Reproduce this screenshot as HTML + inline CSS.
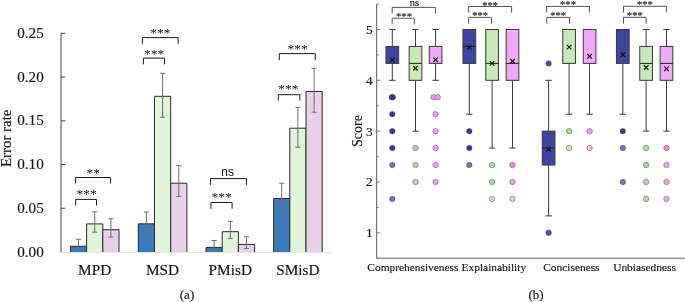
<!DOCTYPE html>
<html><head><meta charset="utf-8"><style>
html,body{margin:0;padding:0;background:#fff;}
body{width:685px;height:302px;overflow:hidden;}
svg{display:block;will-change:transform;color:#111;}
text{font-family:"Liberation Serif", serif;}
.t{stroke:#111;stroke-width:0.15px;}
</style></head><body>
<svg width="685" height="302" viewBox="0 0 685 302">
<rect x="70.40" y="246.30" width="16.2" height="5.70" fill="#3c7bb9"/>
<path d="M70.40 252V246.30H86.60V252" stroke="#2a2a2a" stroke-width="1" fill="none"/>
<rect x="86.60" y="223.90" width="16.2" height="28.10" fill="#e1f3db"/>
<path d="M86.60 252V223.90H102.80V252" stroke="#2a2a2a" stroke-width="1" fill="none"/>
<rect x="102.80" y="229.70" width="16.2" height="22.30" fill="#e7d1e7"/>
<path d="M102.80 252V229.70H119.00V252" stroke="#2a2a2a" stroke-width="1" fill="none"/>
<rect x="138.30" y="223.80" width="16.2" height="28.20" fill="#3c7bb9"/>
<path d="M138.30 252V223.80H154.50V252" stroke="#2a2a2a" stroke-width="1" fill="none"/>
<rect x="154.50" y="96.30" width="16.2" height="155.70" fill="#e1f3db"/>
<path d="M154.50 252V96.30H170.70V252" stroke="#2a2a2a" stroke-width="1" fill="none"/>
<rect x="170.70" y="183.20" width="16.2" height="68.80" fill="#e7d1e7"/>
<path d="M170.70 252V183.20H186.90V252" stroke="#2a2a2a" stroke-width="1" fill="none"/>
<rect x="206.00" y="247.40" width="16.2" height="4.60" fill="#3c7bb9"/>
<path d="M206.00 252V247.40H222.20V252" stroke="#2a2a2a" stroke-width="1" fill="none"/>
<rect x="222.20" y="231.70" width="16.2" height="20.30" fill="#e1f3db"/>
<path d="M222.20 252V231.70H238.40V252" stroke="#2a2a2a" stroke-width="1" fill="none"/>
<rect x="238.40" y="244.40" width="16.2" height="7.60" fill="#e7d1e7"/>
<path d="M238.40 252V244.40H254.60V252" stroke="#2a2a2a" stroke-width="1" fill="none"/>
<rect x="273.60" y="198.50" width="16.2" height="53.50" fill="#3c7bb9"/>
<path d="M273.60 252V198.50H289.80V252" stroke="#2a2a2a" stroke-width="1" fill="none"/>
<rect x="289.80" y="128.20" width="16.2" height="123.80" fill="#e1f3db"/>
<path d="M289.80 252V128.20H306.00V252" stroke="#2a2a2a" stroke-width="1" fill="none"/>
<rect x="306.00" y="91.50" width="16.2" height="160.50" fill="#e7d1e7"/>
<path d="M306.00 252V91.50H322.20V252" stroke="#2a2a2a" stroke-width="1" fill="none"/>
<line x1="60.5" y1="252.5" x2="332" y2="252.5" stroke="#e4e4e4" stroke-width="1"/>
<path d="M78.50 239.30V249.00M76.00 239.30H81.00M76.00 249.00H81.00" stroke="#6e6e6e" stroke-width="1" fill="none"/>
<path d="M94.70 211.80V232.20M92.20 211.80H97.20M92.20 232.20H97.20" stroke="#6e6e6e" stroke-width="1" fill="none"/>
<path d="M110.90 218.80V237.10M108.40 218.80H113.40M108.40 237.10H113.40" stroke="#6e6e6e" stroke-width="1" fill="none"/>
<path d="M146.40 212.00V232.50M143.90 212.00H148.90M143.90 232.50H148.90" stroke="#6e6e6e" stroke-width="1" fill="none"/>
<path d="M162.60 73.30V117.20M160.10 73.30H165.10M160.10 117.20H165.10" stroke="#6e6e6e" stroke-width="1" fill="none"/>
<path d="M178.80 165.70V196.40M176.30 165.70H181.30M176.30 196.40H181.30" stroke="#6e6e6e" stroke-width="1" fill="none"/>
<path d="M214.10 240.50V250.00M211.60 240.50H216.60M211.60 250.00H216.60" stroke="#6e6e6e" stroke-width="1" fill="none"/>
<path d="M230.30 221.30V238.40M227.80 221.30H232.80M227.80 238.40H232.80" stroke="#6e6e6e" stroke-width="1" fill="none"/>
<path d="M246.50 236.70V248.50M244.00 236.70H249.00M244.00 248.50H249.00" stroke="#6e6e6e" stroke-width="1" fill="none"/>
<path d="M281.70 183.20V210.50M279.20 183.20H284.20M279.20 210.50H284.20" stroke="#6e6e6e" stroke-width="1" fill="none"/>
<path d="M297.90 107.50V147.20M295.40 107.50H300.40M295.40 147.20H300.40" stroke="#6e6e6e" stroke-width="1" fill="none"/>
<path d="M314.10 68.30V112.20M311.60 68.30H316.60M311.60 112.20H316.60" stroke="#6e6e6e" stroke-width="1" fill="none"/>
<line x1="61.0" y1="32.8" x2="61.0" y2="252" stroke="#555" stroke-width="1.1"/>
<text x="17.2" y="256.60" font-size="15.2" fill="#111" class="t">0.00</text>
<line x1="61.0" y1="208.26" x2="65.3" y2="208.26" stroke="#555" stroke-width="1.1"/>
<text x="17.2" y="212.86" font-size="15.2" fill="#111" class="t">0.05</text>
<line x1="61.0" y1="164.52" x2="65.3" y2="164.52" stroke="#555" stroke-width="1.1"/>
<text x="17.2" y="169.12" font-size="15.2" fill="#111" class="t">0.10</text>
<line x1="61.0" y1="120.78" x2="65.3" y2="120.78" stroke="#555" stroke-width="1.1"/>
<text x="17.2" y="125.38" font-size="15.2" fill="#111" class="t">0.15</text>
<line x1="61.0" y1="77.04" x2="65.3" y2="77.04" stroke="#555" stroke-width="1.1"/>
<text x="17.2" y="81.64" font-size="15.2" fill="#111" class="t">0.20</text>
<line x1="61.0" y1="33.30" x2="65.3" y2="33.30" stroke="#555" stroke-width="1.1"/>
<text x="17.2" y="37.90" font-size="15.2" fill="#111" class="t">0.25</text>
<text transform="translate(10.8,138.3) rotate(-90)" font-size="14.9" text-anchor="middle" fill="#111" class="t">Error rate</text>
<text x="94.70" y="274.6" font-size="15.3" text-anchor="middle" fill="#111" class="t">MPD</text>
<text x="162.60" y="274.6" font-size="15.3" text-anchor="middle" fill="#111" class="t">MSD</text>
<text x="230.30" y="274.6" font-size="15.3" text-anchor="middle" fill="#111" class="t">PMisD</text>
<text x="297.90" y="274.6" font-size="15.3" text-anchor="middle" fill="#111" class="t">SMisD</text>
<text x="187" y="298.6" font-size="13" text-anchor="middle" fill="#111" class="t">(a)</text>
<path d="M75.60 205.50V199.40H96.50V205.50" stroke="#1a1a1a" stroke-width="1" fill="none"/>
<text x="86.6" y="198.34" font-size="13.5" text-anchor="middle" fill="#111">***</text>
<path d="M75.60 183.30V177.50H110.60V183.30" stroke="#1a1a1a" stroke-width="1" fill="none"/>
<text x="93.3" y="176.65" font-size="13.5" text-anchor="middle" fill="#111">**</text>
<path d="M143.40 64.40V58.10H164.50V64.40" stroke="#1a1a1a" stroke-width="1" fill="none"/>
<text x="154.0" y="57.95" font-size="13.5" text-anchor="middle" fill="#111">***</text>
<path d="M142.40 43.90V37.60H178.10V43.90" stroke="#1a1a1a" stroke-width="1" fill="none"/>
<text x="160.4" y="37.20" font-size="13.5" text-anchor="middle" fill="#111">***</text>
<path d="M210.90 208.80V202.50H232.10V208.80" stroke="#1a1a1a" stroke-width="1" fill="none"/>
<text x="221.5" y="201.34" font-size="13.5" text-anchor="middle" fill="#111">***</text>
<path d="M210.60 185.00V178.60H246.40V185.00" stroke="#1a1a1a" stroke-width="1" fill="none"/>
<text x="227.6" y="176.2" font-size="11.9" text-anchor="middle" fill="#111" style="font-family:'Liberation Sans',sans-serif">ns</text>
<path d="M278.30 100.60V94.70H299.90V100.60" stroke="#1a1a1a" stroke-width="1" fill="none"/>
<text x="288.4" y="93.45" font-size="13.5" text-anchor="middle" fill="#111">***</text>
<path d="M279.30 60.20V53.60H315.30V60.20" stroke="#1a1a1a" stroke-width="1" fill="none"/>
<text x="297.7" y="52.84" font-size="13.5" text-anchor="middle" fill="#111">***</text>
<line x1="376.6" y1="4.09" x2="376.6" y2="258.21" stroke="#777" stroke-width="1.2"/>
<line x1="376.6" y1="258.21" x2="685" y2="258.21" stroke="#5a5a5a" stroke-width="1.1"/>
<line x1="376.6" y1="258.21" x2="378.8" y2="258.21" stroke="#777" stroke-width="1"/>
<line x1="376.6" y1="232.80" x2="380.20000000000005" y2="232.80" stroke="#777" stroke-width="1"/>
<text x="372.6" y="237.20" font-size="13.3" text-anchor="end" fill="#111" class="t">1</text>
<line x1="376.6" y1="207.39" x2="378.8" y2="207.39" stroke="#777" stroke-width="1"/>
<line x1="376.6" y1="181.98" x2="380.20000000000005" y2="181.98" stroke="#777" stroke-width="1"/>
<text x="372.6" y="186.38" font-size="13.3" text-anchor="end" fill="#111" class="t">2</text>
<line x1="376.6" y1="156.56" x2="378.8" y2="156.56" stroke="#777" stroke-width="1"/>
<line x1="376.6" y1="131.15" x2="380.20000000000005" y2="131.15" stroke="#777" stroke-width="1"/>
<text x="372.6" y="135.55" font-size="13.3" text-anchor="end" fill="#111" class="t">3</text>
<line x1="376.6" y1="105.74" x2="378.8" y2="105.74" stroke="#777" stroke-width="1"/>
<line x1="376.6" y1="80.32" x2="380.20000000000005" y2="80.32" stroke="#777" stroke-width="1"/>
<text x="372.6" y="84.72" font-size="13.3" text-anchor="end" fill="#111" class="t">4</text>
<line x1="376.6" y1="54.91" x2="378.8" y2="54.91" stroke="#777" stroke-width="1"/>
<line x1="376.6" y1="29.50" x2="380.20000000000005" y2="29.50" stroke="#777" stroke-width="1"/>
<text x="372.6" y="33.90" font-size="13.3" text-anchor="end" fill="#111" class="t">5</text>
<line x1="376.6" y1="4.09" x2="378.8" y2="4.09" stroke="#777" stroke-width="1"/>
<text transform="translate(362.0,131.0) rotate(-90)" font-size="14.1" text-anchor="middle" fill="#111" class="t">Score</text>
<text x="412.9" y="270.8" font-size="11.4" text-anchor="middle" fill="#111" class="t">Comprehensiveness</text>
<text x="493.85" y="270.8" font-size="11.4" text-anchor="middle" fill="#111" class="t">Explainability</text>
<text x="571.4" y="270.8" font-size="11.4" text-anchor="middle" fill="#111" class="t">Conciseness</text>
<text x="644.5" y="270.8" font-size="11.4" text-anchor="middle" fill="#111" class="t">Unbiasedness</text>
<text x="536.1" y="298.6" font-size="13" text-anchor="middle" fill="#111" class="t">(b)</text>
<path d="M392.3 46.42V29.50M392.3 63.40V80.32M389.10 29.50H395.50M389.10 80.32H395.50" stroke="#3a3a3a" stroke-width="1" fill="none"/>
<rect x="385.95" y="46.42" width="12.7" height="16.98" fill="#3e44a0" stroke="#3a3a3a" stroke-width="1"/>
<path d="M390.00 57.59L394.60 62.19M390.00 62.19L394.60 57.59" stroke="#111" stroke-width="1.15" fill="none"/>
<circle cx="391.80" cy="97.25" r="2.75" fill="#333d97" stroke="#3a3a3a" stroke-opacity="0.7" stroke-width="0.6"/>
<circle cx="392.80" cy="97.25" r="2.75" fill="#333d97" stroke="#3a3a3a" stroke-opacity="0.7" stroke-width="0.6"/>
<circle cx="392.30" cy="114.23" r="2.75" fill="#333d97" stroke="#3a3a3a" stroke-opacity="0.7" stroke-width="0.6"/>
<circle cx="392.30" cy="131.15" r="2.75" fill="#333d97" stroke="#3a3a3a" stroke-opacity="0.7" stroke-width="0.6"/>
<circle cx="392.30" cy="148.07" r="2.75" fill="#333d97" stroke="#3a3a3a" stroke-opacity="0.7" stroke-width="0.6"/>
<circle cx="392.30" cy="165.05" r="2.75" fill="#6d75b9" stroke="#3a3a3a" stroke-opacity="0.7" stroke-width="0.6"/>
<circle cx="392.30" cy="198.90" r="2.75" fill="#6d75b9" stroke="#3a3a3a" stroke-opacity="0.7" stroke-width="0.6"/>
<path d="M415.5 46.42V29.50M415.5 80.32V131.15M412.30 29.50H418.70M412.30 131.15H418.70" stroke="#3a3a3a" stroke-width="1" fill="none"/>
<rect x="409.15" y="46.42" width="12.7" height="33.90" fill="#c9e8b9" stroke="#3a3a3a" stroke-width="1"/>
<line x1="409.15" y1="63.40" x2="421.85" y2="63.40" stroke="#222" stroke-width="1"/>
<path d="M413.20 65.93L417.80 70.53M413.20 70.53L417.80 65.93" stroke="#111" stroke-width="1.15" fill="none"/>
<circle cx="415.50" cy="148.07" r="2.75" fill="#aed9a0" stroke="#3a3a3a" stroke-opacity="0.7" stroke-width="0.6"/>
<circle cx="415.50" cy="165.05" r="2.75" fill="#aed9a0" stroke="#3a3a3a" stroke-opacity="0.7" stroke-width="0.6"/>
<circle cx="415.50" cy="181.98" r="2.75" fill="#aed9a0" stroke="#3a3a3a" stroke-opacity="0.7" stroke-width="0.6"/>
<path d="M435.6 46.42V29.50M435.6 63.40V80.32M432.40 29.50H438.80M432.40 80.32H438.80" stroke="#3a3a3a" stroke-width="1" fill="none"/>
<rect x="429.25" y="46.42" width="12.7" height="16.98" fill="#eeaaf8" stroke="#3a3a3a" stroke-width="1"/>
<path d="M433.30 57.59L437.90 62.19M433.30 62.19L437.90 57.59" stroke="#111" stroke-width="1.15" fill="none"/>
<circle cx="433.50" cy="97.25" r="2.75" fill="#eaa4f1" stroke="#3a3a3a" stroke-opacity="0.7" stroke-width="0.6"/>
<circle cx="437.70" cy="97.25" r="2.75" fill="#eaa4f1" stroke="#3a3a3a" stroke-opacity="0.7" stroke-width="0.6"/>
<circle cx="435.60" cy="114.23" r="2.75" fill="#eaa4f1" stroke="#3a3a3a" stroke-opacity="0.7" stroke-width="0.6"/>
<circle cx="435.60" cy="131.15" r="2.75" fill="#eaa4f1" stroke="#3a3a3a" stroke-opacity="0.7" stroke-width="0.6"/>
<circle cx="435.60" cy="148.07" r="2.75" fill="#eaa4f1" stroke="#3a3a3a" stroke-opacity="0.7" stroke-width="0.6"/>
<circle cx="435.60" cy="165.05" r="2.75" fill="#eaa4f1" stroke="#3a3a3a" stroke-opacity="0.7" stroke-width="0.6"/>
<circle cx="435.60" cy="181.98" r="2.75" fill="#eaa4f1" stroke="#3a3a3a" stroke-opacity="0.7" stroke-width="0.6"/>
<path d="M469.3 29.50V29.50M469.3 63.40V114.23M466.10 29.50H472.50M466.10 114.23H472.50" stroke="#3a3a3a" stroke-width="1" fill="none"/>
<rect x="462.95" y="29.50" width="12.7" height="33.90" fill="#3e44a0" stroke="#3a3a3a" stroke-width="1"/>
<line x1="462.95" y1="46.42" x2="475.65" y2="46.42" stroke="#222" stroke-width="1"/>
<path d="M467.00 45.09L471.60 49.69M467.00 49.69L471.60 45.09" stroke="#111" stroke-width="1.15" fill="none"/>
<circle cx="469.30" cy="131.15" r="2.75" fill="#333d97" stroke="#3a3a3a" stroke-opacity="0.7" stroke-width="0.6"/>
<circle cx="469.30" cy="148.07" r="2.75" fill="#333d97" stroke="#3a3a3a" stroke-opacity="0.7" stroke-width="0.6"/>
<circle cx="469.30" cy="165.05" r="2.75" fill="#6d75b9" stroke="#3a3a3a" stroke-opacity="0.7" stroke-width="0.6"/>
<path d="M492.1 29.50V29.50M492.1 80.32V148.07M488.90 29.50H495.30M488.90 148.07H495.30" stroke="#3a3a3a" stroke-width="1" fill="none"/>
<rect x="485.75" y="29.50" width="12.7" height="50.82" fill="#c9e8b9" stroke="#3a3a3a" stroke-width="1"/>
<line x1="485.75" y1="63.40" x2="498.45" y2="63.40" stroke="#222" stroke-width="1"/>
<path d="M489.80 61.10L494.40 65.70M489.80 65.70L494.40 61.10" stroke="#111" stroke-width="1.15" fill="none"/>
<circle cx="492.10" cy="165.05" r="2.75" fill="#aed9a0" stroke="#3a3a3a" stroke-opacity="0.7" stroke-width="0.6"/>
<circle cx="492.10" cy="181.98" r="2.75" fill="#aed9a0" stroke="#3a3a3a" stroke-opacity="0.7" stroke-width="0.6"/>
<circle cx="492.10" cy="198.90" r="2.75" fill="#c4e5b6" stroke="#3a3a3a" stroke-opacity="0.7" stroke-width="0.6"/>
<path d="M512.5 29.50V29.50M512.5 80.32V148.07M509.30 29.50H515.70M509.30 148.07H515.70" stroke="#3a3a3a" stroke-width="1" fill="none"/>
<rect x="506.15" y="29.50" width="12.7" height="50.82" fill="#eeaaf8" stroke="#3a3a3a" stroke-width="1"/>
<line x1="506.15" y1="63.40" x2="518.85" y2="63.40" stroke="#222" stroke-width="1"/>
<path d="M510.20 58.91L514.80 63.51M510.20 63.51L514.80 58.91" stroke="#111" stroke-width="1.15" fill="none"/>
<circle cx="512.50" cy="165.05" r="2.75" fill="#e38fec" stroke="#3a3a3a" stroke-opacity="0.7" stroke-width="0.6"/>
<circle cx="512.50" cy="181.98" r="2.75" fill="#eaa4f1" stroke="#3a3a3a" stroke-opacity="0.7" stroke-width="0.6"/>
<circle cx="512.50" cy="198.90" r="2.75" fill="#f0bff4" stroke="#3a3a3a" stroke-opacity="0.7" stroke-width="0.6"/>
<path d="M548.6 131.15V80.32M548.6 165.05V215.88M545.40 80.32H551.80M545.40 215.88H551.80" stroke="#3a3a3a" stroke-width="1" fill="none"/>
<rect x="542.25" y="131.15" width="12.7" height="33.90" fill="#3e44a0" stroke="#3a3a3a" stroke-width="1"/>
<line x1="542.25" y1="148.07" x2="554.95" y2="148.07" stroke="#222" stroke-width="1"/>
<path d="M546.30 147.15L550.90 151.75M546.30 151.75L550.90 147.15" stroke="#111" stroke-width="1.15" fill="none"/>
<circle cx="548.60" cy="63.40" r="2.75" fill="#4a52a5" stroke="#3a3a3a" stroke-opacity="0.7" stroke-width="0.6"/>
<circle cx="548.60" cy="232.80" r="2.75" fill="#4a52a5" stroke="#3a3a3a" stroke-opacity="0.7" stroke-width="0.6"/>
<path d="M569.1 29.50V29.50M569.1 63.40V114.23M565.90 29.50H572.30M565.90 114.23H572.30" stroke="#3a3a3a" stroke-width="1" fill="none"/>
<rect x="562.75" y="29.50" width="12.7" height="33.90" fill="#c9e8b9" stroke="#3a3a3a" stroke-width="1"/>
<path d="M566.80 44.79L571.40 49.39M566.80 49.39L571.40 44.79" stroke="#111" stroke-width="1.15" fill="none"/>
<circle cx="569.10" cy="131.15" r="2.75" fill="#aed9a0" stroke="#3a3a3a" stroke-opacity="0.7" stroke-width="0.6"/>
<circle cx="569.10" cy="148.07" r="2.75" fill="#c4e5b6" stroke="#3a3a3a" stroke-opacity="0.7" stroke-width="0.6"/>
<path d="M589.6 29.50V29.50M589.6 63.40V114.23M586.40 29.50H592.80M586.40 114.23H592.80" stroke="#3a3a3a" stroke-width="1" fill="none"/>
<rect x="583.25" y="29.50" width="12.7" height="33.90" fill="#eeaaf8" stroke="#3a3a3a" stroke-width="1"/>
<path d="M587.30 53.98L591.90 58.58M587.30 58.58L591.90 53.98" stroke="#111" stroke-width="1.15" fill="none"/>
<circle cx="589.60" cy="131.15" r="2.75" fill="#eaa4f1" stroke="#3a3a3a" stroke-opacity="0.7" stroke-width="0.6"/>
<circle cx="589.60" cy="148.07" r="2.75" fill="#f0bff4" stroke="#3a3a3a" stroke-opacity="0.7" stroke-width="0.6"/>
<path d="M622.8 29.50V29.50M622.8 63.40V114.23M619.60 29.50H626.00M619.60 114.23H626.00" stroke="#3a3a3a" stroke-width="1" fill="none"/>
<rect x="616.45" y="29.50" width="12.7" height="33.90" fill="#3e44a0" stroke="#3a3a3a" stroke-width="1"/>
<path d="M620.50 52.41L625.10 57.01M620.50 57.01L625.10 52.41" stroke="#111" stroke-width="1.15" fill="none"/>
<circle cx="622.80" cy="131.15" r="2.75" fill="#333d97" stroke="#3a3a3a" stroke-opacity="0.7" stroke-width="0.6"/>
<circle cx="622.80" cy="148.07" r="2.75" fill="#6d75b9" stroke="#3a3a3a" stroke-opacity="0.7" stroke-width="0.6"/>
<circle cx="622.80" cy="181.98" r="2.75" fill="#6d75b9" stroke="#3a3a3a" stroke-opacity="0.7" stroke-width="0.6"/>
<path d="M646.1 46.42V29.50M646.1 80.32V131.15M642.90 29.50H649.30M642.90 131.15H649.30" stroke="#3a3a3a" stroke-width="1" fill="none"/>
<rect x="639.75" y="46.42" width="12.7" height="33.90" fill="#c9e8b9" stroke="#3a3a3a" stroke-width="1"/>
<line x1="639.75" y1="63.40" x2="652.45" y2="63.40" stroke="#222" stroke-width="1"/>
<path d="M643.80 65.22L648.40 69.82M643.80 69.82L648.40 65.22" stroke="#111" stroke-width="1.15" fill="none"/>
<circle cx="646.10" cy="148.07" r="2.75" fill="#aed9a0" stroke="#3a3a3a" stroke-opacity="0.7" stroke-width="0.6"/>
<circle cx="646.10" cy="165.05" r="2.75" fill="#aed9a0" stroke="#3a3a3a" stroke-opacity="0.7" stroke-width="0.6"/>
<circle cx="646.10" cy="181.98" r="2.75" fill="#aed9a0" stroke="#3a3a3a" stroke-opacity="0.7" stroke-width="0.6"/>
<circle cx="646.10" cy="198.90" r="2.75" fill="#aed9a0" stroke="#3a3a3a" stroke-opacity="0.7" stroke-width="0.6"/>
<path d="M666.5 46.42V29.50M666.5 80.32V131.15M663.30 29.50H669.70M663.30 131.15H669.70" stroke="#3a3a3a" stroke-width="1" fill="none"/>
<rect x="660.15" y="46.42" width="12.7" height="33.90" fill="#eeaaf8" stroke="#3a3a3a" stroke-width="1"/>
<line x1="660.15" y1="63.40" x2="672.85" y2="63.40" stroke="#222" stroke-width="1"/>
<path d="M664.20 66.59L668.80 71.19M664.20 71.19L668.80 66.59" stroke="#111" stroke-width="1.15" fill="none"/>
<circle cx="666.50" cy="148.07" r="2.75" fill="#e38fec" stroke="#3a3a3a" stroke-opacity="0.7" stroke-width="0.6"/>
<circle cx="666.50" cy="165.05" r="2.75" fill="#eaa4f1" stroke="#3a3a3a" stroke-opacity="0.7" stroke-width="0.6"/>
<circle cx="666.50" cy="181.98" r="2.75" fill="#eaa4f1" stroke="#3a3a3a" stroke-opacity="0.7" stroke-width="0.6"/>
<circle cx="666.50" cy="198.90" r="2.75" fill="#eaa4f1" stroke="#3a3a3a" stroke-opacity="0.7" stroke-width="0.6"/>
<path d="M392.20 24.40V18.30H414.30V24.40" stroke="#555" stroke-width="1" fill="none"/>
<text x="404.0" y="20.38" font-size="10.6" text-anchor="middle" fill="#444" stroke="#444" stroke-width="0.25">***</text>
<path d="M392.20 13.40V7.40H435.40V13.40" stroke="#555" stroke-width="1" fill="none"/>
<text x="414.3" y="6.00" font-size="10.5" text-anchor="middle" fill="#1a1a1a" stroke="#1a1a1a" stroke-width="0.2">ns</text>
<path d="M468.70 23.80V17.40H491.50V23.80" stroke="#555" stroke-width="1" fill="none"/>
<text x="480.1" y="19.48" font-size="10.6" text-anchor="middle" fill="#444" stroke="#444" stroke-width="0.25">***</text>
<path d="M468.60 12.60V6.50H511.60V12.60" stroke="#555" stroke-width="1" fill="none"/>
<text x="490.1" y="8.58" font-size="10.6" text-anchor="middle" fill="#444" stroke="#444" stroke-width="0.25">***</text>
<path d="M546.80 23.70V17.40H569.50V23.70" stroke="#555" stroke-width="1" fill="none"/>
<text x="558.2" y="19.48" font-size="10.6" text-anchor="middle" fill="#444" stroke="#444" stroke-width="0.25">***</text>
<path d="M546.40 12.50V6.40H589.50V12.50" stroke="#555" stroke-width="1" fill="none"/>
<text x="568.0" y="8.48" font-size="10.6" text-anchor="middle" fill="#444" stroke="#444" stroke-width="0.25">***</text>
<path d="M623.50 23.70V17.30H646.10V23.70" stroke="#555" stroke-width="1" fill="none"/>
<text x="634.8" y="19.38" font-size="10.6" text-anchor="middle" fill="#444" stroke="#444" stroke-width="0.25">***</text>
<path d="M623.50 12.50V6.30H666.40V12.50" stroke="#555" stroke-width="1" fill="none"/>
<text x="644.9" y="8.38" font-size="10.6" text-anchor="middle" fill="#444" stroke="#444" stroke-width="0.25">***</text>
</svg></body></html>
